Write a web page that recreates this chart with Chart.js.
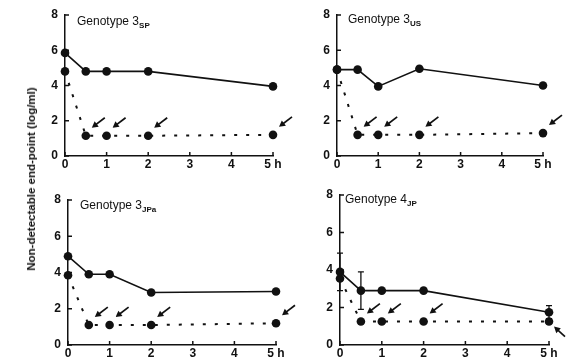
<!DOCTYPE html>
<html><head><meta charset="utf-8">
<script src="https://cdn.jsdelivr.net/npm/chart.js@4/dist/chart.umd.min.js"></script>
<style>
html,body{margin:0;padding:0;background:#fff;}
#wrap{position:relative;width:571px;height:363px;overflow:hidden;background:#fff;}
canvas{position:absolute;}
.ttl{position:absolute;font-family:"Liberation Sans",Arial,sans-serif;font-size:12px;color:#111;white-space:nowrap;line-height:12px;}
.ttl sub{font-size:8px;font-weight:bold;vertical-align:-3px;line-height:0;}
#ytitle{position:absolute;font-family:"Liberation Sans",Arial,sans-serif;font-size:11.5px;font-weight:bold;color:#111;white-space:nowrap;transform:translate(-50%,-50%) rotate(-90deg);left:31px;top:179px;}
</style></head>
<body><div id="wrap">
<canvas id="c1"></canvas><canvas id="c2"></canvas><canvas id="c3"></canvas><canvas id="c4"></canvas>
<div id="ytitle">Non-detectable end-point (log/ml)</div>
</div>
<script>
// ---- data ----
const hours = [0, 0.5, 1, 2, 5];
const xTickLabels = ['0', '1', '2', '3', '4', '5 h'];
const yTickValues = [0, 2, 4, 6, 8];
const genotypeMain = ['Genotype 3', 'Genotype 3', 'Genotype 3', 'Genotype 4'];
const genotypeSub = ['SP', 'US', 'JPa', 'JP'];

const solid3SP = [5.85, 4.8, 4.8, 4.8, 3.95];
const dotted3SP = [4.8, 1.15, 1.15, 1.15, 1.2];
const solid3US = [4.9, 4.9, 3.95, 4.95, 4.0];
const dotted3US = [4.9, 1.2, 1.2, 1.2, 1.3];
const solid3JPa = [4.9, 3.9, 3.9, 2.9, 2.95];
const dotted3JPa = [3.85, 1.1, 1.1, 1.1, 1.2];
const solid4JP = [3.9, 2.9, 2.9, 2.9, 1.75];
const dotted4JP = [3.55, 1.25, 1.25, 1.25, 1.25];
const err4JPLow = [2.9, 1.9, null, null, 1.4];
const err4JPHigh = [4.9, 3.9, null, null, 2.1];

// arrows point at the dotted-series points at these hours
const arrowHours = [0.5, 1, 2, 5];
const arrowFromBelow4JP = [false, false, false, true];

// ---- layout (page coordinates) ----
const panels = [
  {id:'c1', left:0,   top:0,   w:300, h:180, area:{l:65,  t:15,  r:273, b:156}, solid:solid3SP,  dotted:dotted3SP,  title:{x:77, y:15}},
  {id:'c2', left:290, top:0,   w:281, h:180, area:{l:337, t:15,  r:543, b:156}, solid:solid3US,  dotted:dotted3US,  title:{x:348, y:13}},
  {id:'c3', left:0,   top:180, w:300, h:183, area:{l:68,  t:200, r:276, b:345}, solid:solid3JPa, dotted:dotted3JPa, title:{x:80, y:199}},
  {id:'c4', left:290, top:180, w:281, h:183, area:{l:340, t:195, r:549, b:345}, solid:solid4JP,  dotted:dotted4JP,  title:{x:345, y:193}, errLow:err4JPLow, errHigh:err4JPHigh, fromBelow:arrowFromBelow4JP}
];

const Y_W = 30, X_H = 20;
const INK = '#111';

const toXY = (vals) => hours.map((h, i) => ({x: h, y: vals[i]}));

const inwardTicks = {
  id: 'inwardTicks',
  afterDraw(chart) {
    const {ctx, chartArea: a, scales: {x, y}} = chart;
    ctx.save();
    ctx.strokeStyle = INK; ctx.lineWidth = 1.5;
    x.ticks.forEach(t => { const p = x.getPixelForValue(t.value); ctx.beginPath(); ctx.moveTo(p, a.bottom); ctx.lineTo(p, a.bottom - 4); ctx.stroke(); });
    y.ticks.forEach(t => { const p = y.getPixelForValue(t.value); ctx.beginPath(); ctx.moveTo(a.left, p); ctx.lineTo(a.left + 4, p); ctx.stroke(); });
    ctx.restore();
  }
};

const errorBars = {
  id: 'errorBars',
  beforeDatasetsDraw(chart, args, opts) {
    const lo = opts.low, hi = opts.high;
    if (!lo) return;
    const {ctx, scales: {x, y}} = chart;
    ctx.save(); ctx.strokeStyle = INK; ctx.lineWidth = 1.3;
    hours.forEach((h, i) => {
      if (lo[i] == null) return;
      const px = x.getPixelForValue(h), y1 = y.getPixelForValue(lo[i]), y2 = y.getPixelForValue(hi[i]);
      ctx.beginPath(); ctx.moveTo(px, y1); ctx.lineTo(px, y2);
      ctx.moveTo(px - 3, y1); ctx.lineTo(px + 3, y1);
      ctx.moveTo(px - 3, y2); ctx.lineTo(px + 3, y2);
      ctx.stroke();
    });
    ctx.restore();
  }
};

const arrows = {
  id: 'arrows',
  afterDatasetsDraw(chart, args, opts) {
    const {ctx, scales: {x, y}} = chart;
    const dotted = opts.dotted;
    ctx.save(); ctx.strokeStyle = INK; ctx.fillStyle = INK; ctx.lineWidth = 1.7;
    arrowHours.forEach((h, k) => {
      const idx = hours.indexOf(h);
      const px = x.getPixelForValue(h), py = y.getPixelForValue(dotted[idx]);
      const below = opts.fromBelow && opts.fromBelow[k];
      let tx, ty, sx, sy;
      if (below) { tx = px + 5; ty = py + 5; sx = px + 16; sy = py + 15; }
      else { tx = px + 6; ty = py - 8; sx = px + 19; sy = py - 18; }
      const ang = Math.atan2(ty - sy, tx - sx);
      ctx.beginPath(); ctx.moveTo(sx, sy); ctx.lineTo(tx - 3 * Math.cos(ang), ty - 3 * Math.sin(ang)); ctx.stroke();
      ctx.beginPath();
      ctx.moveTo(tx, ty);
      ctx.lineTo(tx - 7 * Math.cos(ang - 0.5), ty - 7 * Math.sin(ang - 0.5));
      ctx.lineTo(tx - 7 * Math.cos(ang + 0.5), ty - 7 * Math.sin(ang + 0.5));
      ctx.closePath(); ctx.fill();
    });
    ctx.restore();
  }
};

const wrap = document.getElementById('wrap');
panels.forEach((p, pi) => {
  const cv = document.getElementById(p.id);
  cv.style.left = p.left + 'px'; cv.style.top = p.top + 'px';
  cv.style.width = p.w + 'px'; cv.style.height = p.h + 'px';
  cv.width = p.w; cv.height = p.h;
  const pad = {
    left: p.area.l - p.left - Y_W,
    top: p.area.t - p.top,
    right: p.left + p.w - p.area.r,
    bottom: p.top + p.h - p.area.b - X_H
  };
  new Chart(cv, {
    type: 'line',
    data: {
      datasets: [
        {data: toXY(p.solid), borderColor: INK, backgroundColor: INK, borderWidth: 1.6, pointRadius: 4.3, pointBackgroundColor: INK, pointBorderWidth: 0, tension: 0, clip: false},
        {data: toXY(p.dotted), borderColor: INK, backgroundColor: INK, borderWidth: 2, borderDash: [3, 9], pointRadius: 4.3, pointBackgroundColor: INK, pointBorderWidth: 0, tension: 0, clip: false}
      ]
    },
    options: {
      responsive: false, animation: false, devicePixelRatio: 1,
      layout: {padding: pad},
      plugins: {legend: {display: false}, tooltip: {enabled: false}, title: {display: false},
        errorBars: {low: p.errLow, high: p.errHigh},
        arrows: {dotted: p.dotted, fromBelow: p.fromBelow}},
      scales: {
        x: {type: 'linear', min: 0, max: 5,
          afterFit: s => { s.height = X_H; },
          afterBuildTicks: s => { s.ticks = xTickLabels.map((_, i) => ({value: i})); },
          ticks: {color: INK, font: {family: '"Liberation Sans", Arial, sans-serif', size: 12, weight: 'bold'}, padding: 1, maxRotation: 0, autoSkip: false,
            callback: (v, i) => xTickLabels[i]},
          grid: {display: false, drawTicks: false},
          border: {display: true, color: INK, width: 1.5}},
        y: {type: 'linear', min: 0, max: 8,
          afterFit: s => { s.width = Y_W; },
          afterBuildTicks: s => { s.ticks = yTickValues.map(v => ({value: v})); },
          ticks: {color: INK, font: {family: '"Liberation Sans", Arial, sans-serif', size: 12, weight: 'bold'}, padding: 7,
            callback: v => String(v)},
          grid: {display: false, drawTicks: false},
          border: {display: true, color: INK, width: 1.5}}
      }
    },
    plugins: [inwardTicks, errorBars, arrows]
  });
  const t = document.createElement('div');
  t.className = 'ttl';
  t.style.left = p.title.x + 'px'; t.style.top = p.title.y + 'px';
  t.innerHTML = genotypeMain[pi] + '<sub>' + genotypeSub[pi] + '</sub>';
  wrap.appendChild(t);
});
</script>
</body></html>
